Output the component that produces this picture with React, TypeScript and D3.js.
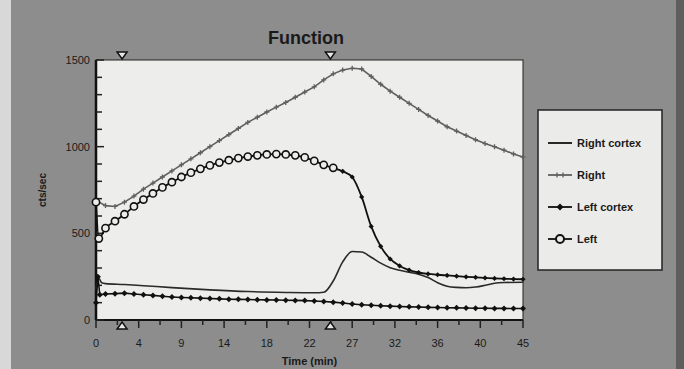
import React from "react";
import * as d3 from "d3";

const title = "Function";
const xLabel = "Time  (min)";
const yLabel = "cts/sec";
const xTickValues = [0, 4.5, 9, 13.5, 18, 22.5, 27, 31.5, 36, 40.5, 45];
const xTickLabels = ["0", "4", "9", "14", "18", "22", "27", "32", "36", "40", "45"];
const yTickValues = [0, 500, 1000, 1500];
const triangleTimes = [2.75, 24.7];

const rightCortexT = [0, 0.3, 0.6, 1, 3, 5, 8, 12, 16, 20, 23, 24, 25, 26, 27, 28, 29, 30, 31, 32, 33, 34, 35, 36, 37, 38, 39, 40, 41, 42, 43, 45];
const rightCortexV = [180, 240, 215, 210, 205, 198, 187, 174, 164, 159, 157, 160, 225, 335, 395, 392, 362, 328, 302, 287, 276, 264, 245, 215, 195, 188, 186, 190, 200, 212, 216, 218];

const rightT = [0, 1, 2, 3, 4, 5, 6, 7, 8, 9, 10, 11, 12, 13, 14, 15, 16, 17, 18, 19, 20, 21, 22, 23, 24, 25, 26, 27, 28, 29, 30, 31, 32, 33, 34, 35, 36, 37, 38, 39, 40, 41, 42, 43, 44, 45];
const rightV = [690, 660, 655, 680, 715, 755, 790, 825, 860, 895, 930, 965, 1000, 1035, 1070, 1105, 1140, 1170, 1200, 1228, 1255, 1285, 1315, 1345, 1385, 1420, 1442, 1452, 1448, 1405, 1360, 1320, 1285, 1250, 1215, 1180, 1148, 1115, 1090, 1065, 1040, 1018, 1000, 980, 958, 940];

const leftCortexT = [0, 0.2, 0.4, 1, 2, 3, 4, 5, 6, 7, 8, 9, 10, 11, 12, 13, 14, 15, 16, 17, 18, 19, 20, 21, 22, 23, 24, 25, 26, 27, 28, 29, 30, 31, 32, 33, 34, 35, 36, 37, 38, 39, 40, 41, 42, 43, 44, 45];
const leftCortexV = [100, 250, 145, 150, 152, 155, 150, 146, 142, 137, 133, 130, 128, 126, 124, 122, 120, 119, 118, 117, 116, 115, 114, 113, 112, 110, 107, 103, 98, 92, 88, 85, 82, 80, 78, 76, 75, 73, 72, 71, 70, 69, 68, 68, 67, 67, 66, 66];

const leftT = [0, 0.3, 1, 2, 3, 4, 5, 6, 7, 8, 9, 10, 11, 12, 13, 14, 15, 16, 17, 18, 19, 20, 21, 22, 23, 24, 25, 26, 27, 28, 29, 30, 31, 32, 33, 34, 35, 36, 37, 38, 39, 40, 41, 42, 43, 44, 45];
const leftV = [680, 470, 530, 570, 610, 655, 695, 730, 765, 795, 825, 850, 872, 892, 908, 922, 934, 943, 950, 955, 957, 955, 950, 938, 918, 895, 878, 858, 825, 710, 540, 425, 352, 312, 288, 274, 266, 261, 257, 253, 249, 246, 243, 240, 238, 236, 235];
const leftCircleUntil = 25;

const legendNames = ["Right cortex", "Right", "Left cortex", "Left"];

const W = 684, H = 369;
const PL = 96, PR = 523, PT = 60, PB = 320;

export default function App() {
  const x = d3.scaleLinear().domain([0, 45]).range([PL, PR]);
  const y = d3.scaleLinear().domain([0, 1500]).range([PB, PT]);
  const line = d3.line<[number, number]>().x(d => x(d[0])).y(d => y(d[1]));
  const smooth = d3.line<[number, number]>().x(d => x(d[0])).y(d => y(d[1])).curve(d3.curveMonotoneX);
  const zip = (t: number[], v: number[]) => t.map((tt, i) => [tt, v[i]] as [number, number]);

  const rc = zip(rightCortexT, rightCortexV);
  const r = zip(rightT, rightV);
  const lc = zip(leftCortexT, leftCortexV);
  const l = zip(leftT, leftV);

  const yMinor = d3.range(0, 1501, 100);
  const xMinor = d3.range(0, 45.01, 2.25);
  const font = "'Liberation Sans', Arial, sans-serif";

  const diamond = (cx: number, cy: number, s: number) =>
    `M${cx},${cy - s}L${cx + s},${cy}L${cx},${cy + s}L${cx - s},${cy}Z`;

  return (
    <svg width={W} height={H} style={{ position: "absolute", left: 0, top: 0 }} fontFamily={font}>
      <rect x={0} y={0} width={W} height={H} fill="#8d8d8d" />
      <rect x={0} y={0} width={11} height={H} fill="#d8d8d8" />
      <rect x={676} y={0} width={8} height={H} fill="#5e5e5e" />
      <text x={306} y={44} textAnchor="middle" fontSize={18} fontWeight="bold" fill="#1a1a1a">{title}</text>

      <rect x={PL} y={PT} width={PR - PL} height={PB - PT} fill="#ededeb" stroke="#222" strokeWidth={1} />
      <line x1={PL} x2={PL} y1={PT} y2={PB} stroke="#111" strokeWidth={2.5} />
      <line x1={PL} x2={PR} y1={PB} y2={PB} stroke="#111" strokeWidth={2} />

      {yMinor.map(v => (
        <line key={"yt" + v} x1={PL} x2={PL + (v % 500 === 0 ? 8 : 6)} y1={y(v)} y2={y(v)} stroke="#222" strokeWidth={1.5} />
      ))}
      {yTickValues.map(v => (
        <text key={"yl" + v} x={PL - 6} y={y(v) + 4} textAnchor="end" fontSize={11} fill="#1a1a1a">{v}</text>
      ))}
      {xMinor.map((t, i) => (
        <line key={"xt" + i} x1={x(t)} x2={x(t)} y1={PB} y2={PB + (i % 2 === 0 ? 8 : 5)} stroke="#222" strokeWidth={1.5} />
      ))}
      {xTickValues.map((t, i) => (
        <text key={"xl" + i} x={x(t)} y={PB + 27} textAnchor="middle" fontSize={11} fill="#1a1a1a">{xTickLabels[i]}</text>
      ))}
      <text x={x(22.5)} y={365} textAnchor="middle" fontSize={11} fontWeight="bold" fill="#1a1a1a">{xLabel}</text>
      <text transform={`translate(46,${190}) rotate(-90)`} textAnchor="middle" fontSize={10} fontWeight="bold" fill="#1a1a1a">{yLabel}</text>

      {triangleTimes.map((t, i) => (
        <g key={"tri" + i}>
          <path d={`M${x(t) - 5},${PT - 8}L${x(t) + 5},${PT - 8}L${x(t)},${PT - 1}Z`} fill="#e8e8e8" stroke="#111" strokeWidth={1.5} />
          <path d={`M${x(t) - 5},${PB + 9}L${x(t) + 5},${PB + 9}L${x(t)},${PB + 2}Z`} fill="#e8e8e8" stroke="#111" strokeWidth={1.5} />
        </g>
      ))}

      {/* Right */}
      <path d={line(r) || ""} fill="none" stroke="#5f5f5f" strokeWidth={1.6} />
      {r.map((d, i) => (
        <path key={"rm" + i} d={`M${x(d[0]) - 2.5},${y(d[1])}h5M${x(d[0])},${y(d[1]) - 2.5}v5`} stroke="#5f5f5f" strokeWidth={1.3} />
      ))}

      {/* Right cortex */}
      <path d={smooth(rc) || ""} fill="none" stroke="#2a2a2a" strokeWidth={1.6} />

      {/* Left cortex */}
      <path d={line(lc) || ""} fill="none" stroke="#111" strokeWidth={1.6} />
      {lc.map((d, i) => (
        <path key={"lcm" + i} d={diamond(x(d[0]), y(d[1]), 3)} fill="#111" />
      ))}

      {/* Left */}
      <path d={smooth(l) || ""} fill="none" stroke="#111" strokeWidth={1.8} />
      {l.map((d, i) =>
        d[0] <= leftCircleUntil ? (
          <circle key={"lm" + i} cx={x(d[0])} cy={y(d[1])} r={3.6} fill="#ededeb" stroke="#111" strokeWidth={1.6} />
        ) : (
          <path key={"lm" + i} d={diamond(x(d[0]), y(d[1]), 2.6)} fill="#111" />
        )
      )}

      {/* Legend */}
      <rect x={538} y={110} width={124} height={160} fill="#ebebea" stroke="#222" strokeWidth={1.5} />
      {legendNames.map((name, i) => {
        const ly = 143 + i * 32;
        return (
          <g key={"lg" + i}>
            <line x1={548} x2={572} y1={ly} y2={ly} stroke={i === 1 ? "#5f5f5f" : "#111"} strokeWidth={1.8} />
            {i === 1 && <path d={`M557,${ly - 2.5}v5M563,${ly - 2.5}v5`} stroke="#5f5f5f" strokeWidth={1.3} />}
            {i === 2 && <path d={diamond(560, ly, 3.5)} fill="#111" />}
            {i === 3 && <circle cx={560} cy={ly} r={4} fill="#ebebea" stroke="#111" strokeWidth={2} />}
            <text x={577} y={ly + 4} fontSize={11} fontWeight="bold" fill="#1a1a1a">{name}</text>
          </g>
        );
      })}
    </svg>
  );
}
